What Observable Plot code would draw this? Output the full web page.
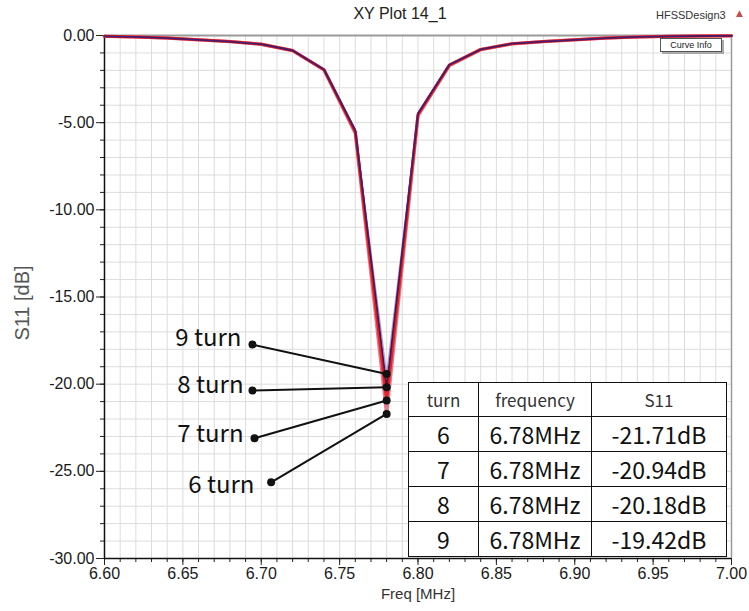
<!DOCTYPE html>
<html>
<head>
<meta charset="utf-8">
<script src="https://cdn.jsdelivr.net/npm/d3@7"></script>
<script src="https://cdn.jsdelivr.net/npm/@observablehq/plot@0.6"></script>
<style>
  body { margin: 0; background: #fff; }
  #wrap { position: relative; width: 749px; height: 611px; overflow: hidden; background: #fff; }
  #wrap svg { position: absolute; left: 0; top: 0; }
  .title { position: absolute; left: 0; width: 800px; top: 5px; text-align: center; font: 16px "Liberation Sans", Arial, sans-serif; color: #222; }
  .design { position: absolute; left: 656px; top: 9px; font: 11px "Liberation Sans Narrow", "Liberation Sans", Arial, sans-serif; color: #333; }
  .tri { position: absolute; left: 736px; top: 8px; font: 9px "DejaVu Sans", sans-serif; color: #c0504d; }
  .curveinfo { position: absolute; left: 660px; top: 38px; width: 60px; height: 12px; border: 1px solid #555; background: #fff;
    box-shadow: 2px 2px 0 #aaa; font: 9px "Liberation Sans Narrow", "Liberation Sans", Arial, sans-serif; text-align: center; line-height: 12px; color: #222; }
  .ylab { position: absolute; left: 22px; top: 303px; transform: translate(-50%, -50%) rotate(-90deg); white-space: nowrap;
    font: 20px "Liberation Sans", Arial, sans-serif; color: #555; }
  table.res { position: absolute; left: 408px; top: 382px; border-collapse: collapse; background: #fff; font-family: "Noto Sans CJK KR", "Noto Sans", sans-serif; }
  table.res td { border: 1.5px solid #111; text-align: center; padding: 0; }
  table.res tr.h td { height: 33px; font-size: 17px; color: #333; }
  table.res tr.b td { height: 34px; font-size: 23px; color: #111; }
</style>
</head>
<body>
<div id="wrap"></div>
<script>
// ---- data ----
const freq  = [6.60, 6.62, 6.64, 6.66, 6.68, 6.70, 6.72, 6.74, 6.76, 6.78, 6.80, 6.82, 6.84, 6.86, 6.88, 6.90, 6.92, 6.94, 6.96, 6.98, 7.00];
const turn6 = [-0.05, -0.08, -0.15, -0.25, -0.35, -0.50, -0.87, -1.97, -5.60, -21.71, -4.60, -1.72, -0.81, -0.48, -0.35, -0.25, -0.15, -0.08, -0.05, -0.03, -0.02];
const turn7 = [-0.05, -0.08, -0.15, -0.25, -0.35, -0.50, -0.86, -1.96, -5.52, -20.94, -4.54, -1.70, -0.80, -0.47, -0.35, -0.25, -0.15, -0.08, -0.05, -0.03, -0.02];
const turn8 = [-0.05, -0.08, -0.15, -0.25, -0.35, -0.50, -0.86, -1.95, -5.45, -20.18, -4.48, -1.68, -0.80, -0.47, -0.35, -0.25, -0.15, -0.08, -0.05, -0.03, -0.02];
const turn9 = [-0.05, -0.08, -0.15, -0.25, -0.35, -0.50, -0.85, -1.94, -5.38, -19.42, -4.42, -1.66, -0.79, -0.46, -0.34, -0.25, -0.15, -0.08, -0.05, -0.03, -0.02];
const turns = [6, 7, 8, 9];
const seriesValues = [turn6, turn7, turn8, turn9];
const resonanceFreq = [6.78, 6.78, 6.78, 6.78];
const tableFreq = ["6.78MHz", "6.78MHz", "6.78MHz", "6.78MHz"];
const tableS11 = ["-21.71dB", "-20.94dB", "-20.18dB", "-19.42dB"];
const tableMin = [-21.71, -20.94, -20.18, -19.42];
const tableHeader = ["turn", "frequency", "S11"];
const xTicks = [6.60, 6.65, 6.70, 6.75, 6.80, 6.85, 6.90, 6.95, 7.00];
const yTicks = [0, -5, -10, -15, -20, -25, -30];
// callout anchors (data units): dot at label end, and text anchor
const calloutDotX  = [6.7063, 6.6957, 6.6944, 6.6944];
const calloutDotY  = [-25.63, -23.10, -20.37, -17.73];
const calloutTextX = [6.6957, 6.6887, 6.6887, 6.6874];
const calloutTextY = [-25.82, -22.89, -20.08, -17.38];

// ---- build tables ----
const lineData = [];
turns.forEach((t, i) => freq.forEach((f, j) => lineData.push({turn: t, f, s: seriesValues[i][j]})));
const callouts = turns.map((t, i) => ({
  label: `${t} turn`, x1: calloutDotX[i], y1: calloutDotY[i], x2: resonanceFreq[i], y2: tableMin[i],
  tx: calloutTextX[i], ty: calloutTextY[i]
}));
const colors = {6: "#e07a8a", 7: "#e3232b", 8: "#5e1236", 9: "#2b2fd0"};
const widths = {6: 3.4, 7: 3.0, 8: 1.8, 9: 1.2};
const opac = {6: 1, 7: 1, 8: 1, 9: 0.45};

const xMinor = d3.range(0, 41).map(i => +(6.60 + i * 0.01).toFixed(2));
const yMinor = d3.range(-30, 1, 1);
const font = "'Liberation Sans', Arial, sans-serif";

const chart = Plot.plot({
  width: 749, height: 611,
  marginLeft: 104, marginRight: 18, marginTop: 35, marginBottom: 53,
  x: {domain: [6.60, 7.00]},
  y: {domain: [-30, 0]},
  style: {fontFamily: font, fontSize: "16px", color: "#1a1a1a", background: "transparent", overflow: "visible"},
  marks: [
    Plot.gridX(xMinor, {stroke: "#dcdcdc", strokeOpacity: 1}),
    Plot.gridY(yMinor, {stroke: "#dcdcdc", strokeOpacity: 1}),
    Plot.ruleY([0], {stroke: "#9a9a9a", strokeWidth: 2}),
    Plot.ruleX([7.00], {stroke: "#9a9a9a", strokeWidth: 1.5}),
    Plot.axisY({ticks: yMinor, tickSize: 4, tickFormat: () => "", label: null, stroke: "#222"}),
    Plot.axisY({ticks: yTicks, tickSize: 8, tickPadding: 2, tickFormat: d => d.toFixed(2), label: null, fontSize: 16, stroke: "#222"}),
    Plot.axisX({ticks: xMinor, tickSize: 4, tickFormat: () => "", label: null, stroke: "#222"}),
    Plot.axisX({ticks: xTicks, tickSize: 7, tickPadding: 2, tickFormat: d => d.toFixed(2), label: null, fontSize: 16, stroke: "#222"}),
    Plot.ruleX([6.60], {stroke: "#111", strokeWidth: 1.5}),
    Plot.ruleY([-30], {stroke: "#111", strokeWidth: 1.5}),
    ...turns.map(t => Plot.line(lineData.filter(d => d.turn === t), {x: "f", y: "s", stroke: colors[t], strokeWidth: widths[t], strokeOpacity: opac[t]})),
    Plot.link(callouts, {x1: "x1", y1: "y1", x2: "x2", y2: "y2", stroke: "#111", strokeWidth: 2}),
    Plot.dot(callouts, {x: "x1", y: "y1", r: 4, fill: "#111"}),
    Plot.dot(callouts, {x: "x2", y: "y2", r: 4, fill: "#111"}),
    Plot.text(callouts, {x: "tx", y: "ty", text: "label", textAnchor: "end", fontSize: 24, fill: "#111",
      fontFamily: "'Noto Sans CJK KR', 'Noto Sans', sans-serif"}),
    Plot.text(["Freq [MHz]"], {frameAnchor: "bottom", dy: 40, fontSize: 15, fill: "#333"})
  ]
});

const wrap = document.getElementById("wrap");
wrap.appendChild(chart);

const add = (cls, txt) => { const d = document.createElement("div"); d.className = cls; d.textContent = txt; wrap.appendChild(d); };
add("title", "XY Plot 14_1");
add("design", "HFSSDesign3");
add("tri", "▲");
add("curveinfo", "Curve Info");
add("ylab", "S11 [dB]");

const table = document.createElement("table"); table.className = "res";
const colW = [69, 112, 134];
const hr = document.createElement("tr"); hr.className = "h";
tableHeader.forEach((h, i) => { const td = document.createElement("td"); td.textContent = h; td.style.width = colW[i] + "px"; hr.appendChild(td); });
table.appendChild(hr);
turns.forEach((t, i) => {
  const tr = document.createElement("tr"); tr.className = "b";
  [String(t), tableFreq[i], tableS11[i]].forEach((v, k) => { const td = document.createElement("td"); td.textContent = v; td.style.width = colW[k] + "px"; tr.appendChild(td); });
  table.appendChild(tr);
});
wrap.appendChild(table);
</script>
</body>
</html>
